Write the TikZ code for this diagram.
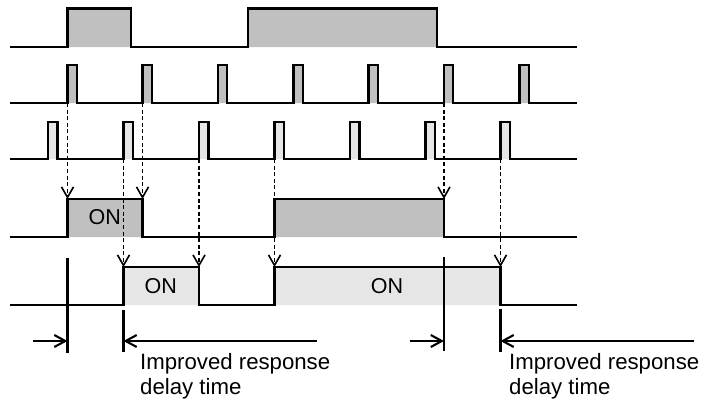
\documentclass[tikz,border=0pt]{standalone}
\usepackage{fontspec}
\setmainfont{Liberation Sans}
\usetikzlibrary{arrows.meta}
\definecolor{darkfill}{RGB}{192,192,192}
\definecolor{lightfill}{RGB}{230,230,230}
\begin{document}
\begin{tikzpicture}[x=1pt,y=-1pt,
  wave/.style={line width=2.1pt, line join=miter},
  dasharrow/.style={line width=1.6pt, dash pattern=on 4pt off 2.6pt, -{Straight Barb[length=10.5pt,width=12pt]}},
  dimline/.style={line width=2.1pt},
  dimarrow/.style={line width=2.1pt, -{Straight Barb[length=11pt,width=12pt]}},
  lbl/.style={font=\fontsize{22.2}{26}\selectfont, inner sep=0pt, anchor=base west},
  onlbl/.style={font=\fontsize{21.5}{25}\selectfont, inner sep=0pt}]
\useasboundingbox (0,0) rectangle (704,400);
% Row 1
\fill[darkfill] (67.5,8.5) rectangle (131,47) (248,8.5) rectangle (437,47);
\draw[wave] (10,47) -- (67.5,47) -- (67.5,8.5) -- (131,8.5) -- (131,47) -- (248,47) -- (248,8.5) -- (437,8.5) -- (437,47) -- (577,47);
% Row 2
\fill[darkfill] foreach \x in {67.5,142.5,218,293.5,368.5,444,519.5} {(\x,65) rectangle (\x+9.3,103)};
\draw[wave] (10,103) foreach \x in {67.5,142.5,218,293.5,368.5,444,519.5} { -- (\x,103) -- (\x,65) -- (\x+9.3,65) -- (\x+9.3,103)} -- (577,103);
% Row 3
\fill[lightfill] foreach \x in {48,123.5,199,274.5,350,425.5,500.5} {(\x,122) rectangle (\x+9.5,159)};
\draw[wave] (10,159) foreach \x in {48,123.5,199,274.5,350,425.5,500.5} { -- (\x,159) -- (\x,122) -- (\x+9.5,122) -- (\x+9.5,159)} -- (577,159);
% Row 4
\fill[darkfill] (67.5,199) rectangle (142.5,237) (274.5,199) rectangle (444,237);
\draw[wave] (10,237) -- (67.5,237) -- (67.5,199) -- (142.5,199) -- (142.5,237) -- (274.5,237) -- (274.5,199) -- (444,199) -- (444,237) -- (577,237);
% Row 5
\fill[lightfill] (123.5,267) rectangle (199,305) (274.5,267) rectangle (500.5,305);
\draw[wave] (10,305) -- (123.5,305) -- (123.5,267) -- (199,267) -- (199,305) -- (274.5,305) -- (274.5,267) -- (500.5,267) -- (500.5,305) -- (577,305);
% labels
\node[onlbl] (on1) at (104.7,216.7) {ON};
\node[onlbl] (on2) at (160.8,285.8) {ON};
\node[onlbl] (on3) at (387,286) {ON};
% coordinates for dashed arrows
\coordinate (s1) at (67.5,103);  \coordinate (e1) at (67.5,199);
\coordinate (s2) at (142.5,103); \coordinate (e2) at (142.5,199);
\coordinate (s3) at (444,103);   \coordinate (e3) at (444,199);
\coordinate (s4) at (123.5,159); \coordinate (e4) at (123.5,267);
\coordinate (s5) at (199,159);   \coordinate (e5) at (199,267);
\coordinate (s6) at (274.5,159); \coordinate (e6) at (274.5,267);
\coordinate (s7) at (500.5,159); \coordinate (e7) at (500.5,267);
\foreach \i in {1,...,7} {\draw[dasharrow] (s\i) -- (e\i);}
% dimension lines left
\coordinate (va1) at (67.5,258);  \coordinate (vb1) at (67.5,353);
\coordinate (va2) at (123.5,310); \coordinate (vb2) at (123.5,352);
\draw[dimline] (va1) -- (vb1) (va2) -- (vb2);
\coordinate (ha1) at (33,341);  \coordinate (hb1) at (67.5,341);
\coordinate (ha2) at (316.7,341); \coordinate (hb2) at (123.5,341);
\draw[dimarrow] (ha1) -- (hb1);
\draw[dimarrow] (ha2) -- (hb2);
% dimension lines right
\coordinate (va3) at (444,257);  \coordinate (vb3) at (444,351);
\coordinate (va4) at (500.5,309); \coordinate (vb4) at (500.5,352);
\draw[dimline] (va3) -- (vb3) (va4) -- (vb4);
\coordinate (ha3) at (410.3,341);  \coordinate (hb3) at (444,341);
\coordinate (ha4) at (693.7,341); \coordinate (hb4) at (500.5,341);
\draw[dimarrow] (ha3) -- (hb3);
\draw[dimarrow] (ha4) -- (hb4);
% texts
\node[lbl] (t1a) at (140,369) {Improved response};
\node[lbl] (t1b) at (140,394) {delay time};
\node[lbl] (t2a) at (509,369) {Improved response};
\node[lbl] (t2b) at (509,394) {delay time};
\end{tikzpicture}
\end{document}
